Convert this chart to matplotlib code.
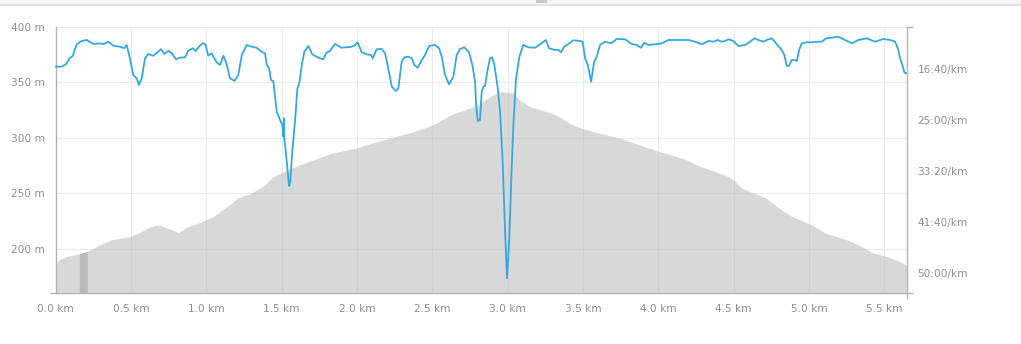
import numpy as np
import matplotlib
matplotlib.use("Agg")
import matplotlib.pyplot as plt
from matplotlib.patches import Rectangle
from matplotlib.ticker import FuncFormatter

# elevation profile (km, m)
elev_km = [0.0, 0.030, 0.074, 0.158, 0.211, 0.295, 0.373, 0.494, 0.561, 0.627,
           0.678, 0.727, 0.815, 0.871, 0.937, 0.999, 1.047, 1.114, 1.169, 1.213,
           1.291, 1.357, 1.390, 1.435, 1.512, 1.611, 1.744, 1.833, 1.988, 2.120,
           2.231, 2.364, 2.474, 2.540, 2.629, 2.717, 2.806, 2.817, 2.850, 2.883,
           2.950, 3.038, 3.078, 3.145, 3.256, 3.322, 3.411, 3.503, 3.613, 3.746,
           3.857, 3.990, 4.100, 4.189, 4.244, 4.277, 4.299, 4.377, 4.465, 4.509,
           4.554, 4.631, 4.709, 4.797, 4.886, 5.018, 5.106, 5.239, 5.327, 5.416,
           5.526, 5.593, 5.649]
elev_m = [186.3, 190.8, 193.2, 195.6, 197.7, 203.7, 208.2, 211.1, 215.1, 219.6,
          221.7, 219.6, 214.7, 219.6, 222.6, 226.2, 229.1, 235.8, 241.2, 246.2,
          249.5, 254.7, 257.6, 264.2, 269.6, 275.0, 281.7, 286.1, 290.6, 296.0,
          300.2, 305.0, 310.1, 314.0, 321.2, 325.1, 329.6, 331.1, 334.1, 337.1,
          341.5, 340.6, 334.1, 328.1, 323.6, 320.6, 313.1, 308.0, 304.1, 299.6,
          294.5, 288.2, 284.0, 280.1, 276.3, 274.1, 273.2, 269.6, 265.1, 260.6,
          254.7, 250.2, 246.2, 237.2, 229.1, 221.7, 214.2, 208.8, 203.7, 196.8,
          192.7, 189.3, 185.1]

# pace (km, seconds per km)
pace_km = [0.0, 0.041, 0.070, 0.092, 0.114, 0.141, 0.174, 0.207, 0.251, 0.295,
           0.317, 0.350, 0.384, 0.428, 0.455, 0.472, 0.494, 0.516, 0.539, 0.554,
           0.572, 0.594, 0.616, 0.649, 0.676, 0.700, 0.722, 0.749, 0.771, 0.800,
           0.826, 0.859, 0.881, 0.910, 0.930, 0.952, 0.977, 0.994, 1.014, 1.037,
           1.047, 1.070, 1.092, 1.114, 1.136, 1.158, 1.187, 1.213, 1.236, 1.269,
           1.302, 1.335, 1.368, 1.390, 1.402, 1.417, 1.430, 1.445, 1.468, 1.490,
           1.505, 1.512, 1.516, 1.518, 1.528, 1.541, 1.550, 1.558, 1.571, 1.589,
           1.605, 1.618, 1.634, 1.651, 1.678, 1.704, 1.744, 1.777, 1.795, 1.822,
           1.855, 1.899, 1.921, 1.954, 1.983, 2.005, 2.032, 2.065, 2.094, 2.105,
           2.131, 2.165, 2.187, 2.208, 2.231, 2.258, 2.275, 2.297, 2.315, 2.341,
           2.364, 2.381, 2.404, 2.430, 2.452, 2.479, 2.518, 2.545, 2.563, 2.585,
           2.611, 2.640, 2.662, 2.684, 2.713, 2.744, 2.766, 2.784, 2.791, 2.802,
           2.817, 2.828, 2.839, 2.850, 2.865, 2.883, 2.897, 2.910, 2.932, 2.950,
           2.968, 2.983, 2.996, 3.011, 3.027, 3.038, 3.056, 3.078, 3.104, 3.138,
           3.182, 3.215, 3.253, 3.275, 3.315, 3.337, 3.355, 3.374, 3.403, 3.436,
           3.481, 3.498, 3.514, 3.532, 3.554, 3.574, 3.591, 3.613, 3.647, 3.686,
           3.724, 3.779, 3.824, 3.857, 3.884, 3.907, 3.934, 3.978, 4.023, 4.067,
           4.111, 4.155, 4.199, 4.244, 4.288, 4.332, 4.365, 4.394, 4.421, 4.443,
           4.465, 4.498, 4.531, 4.576, 4.609, 4.637, 4.664, 4.697, 4.720, 4.753,
           4.786, 4.819, 4.836, 4.852, 4.868, 4.885, 4.903, 4.919, 4.934, 4.952,
           4.985, 5.018, 5.051, 5.085, 5.113, 5.151, 5.195, 5.239, 5.284, 5.327,
           5.383, 5.438, 5.493, 5.538, 5.571, 5.589, 5.604, 5.619, 5.633, 5.649]
pace_s = [977, 977, 954, 895, 873, 758, 726, 716, 755, 749,
          758, 733, 772, 782, 797, 765, 895, 1059, 1091, 1157,
          1091, 895, 853, 870, 837, 807, 853, 824, 846, 905,
          889, 886, 821, 797, 824, 782, 749, 758, 870, 846,
          880, 934, 961, 870, 954, 1091, 1117, 1059, 863, 765,
          782, 792, 831, 846, 961, 993, 1108, 1117, 1418, 1499,
          1548, 1662, 1482, 1678, 1809, 2005, 2145, 2103, 1809, 1516,
          1189, 1140, 961, 831, 775, 856, 889, 905, 846, 821,
          755, 792, 788, 785, 772, 739, 837, 856, 863, 895,
          807, 804, 846, 993, 1173, 1215, 1189, 929, 886, 880,
          895, 961, 987, 912, 863, 775, 765, 797, 880, 1059,
          1150, 1075, 863, 804, 788, 837, 961, 1124, 1352, 1509,
          1499, 1222, 1173, 1166, 1026, 895, 886, 944, 1157, 1418,
          1939, 2592, 3048, 2657, 1972, 1548, 1091, 880, 765, 788,
          792, 758, 716, 797, 814, 814, 837, 782, 755, 719,
          726, 733, 895, 961, 1124, 929, 880, 765, 733, 749,
          706, 709, 755, 765, 792, 743, 765, 758, 749, 716,
          716, 716, 716, 733, 758, 726, 733, 716, 733, 726,
          709, 726, 775, 765, 733, 700, 716, 733, 716, 700,
          758, 814, 863, 971, 968, 912, 912, 922, 814, 749,
          739, 739, 733, 733, 700, 694, 684, 716, 749, 716,
          700, 733, 706, 716, 733, 797, 895, 961, 1036, 1042]

highlight_km = [0.158, 0.211]
dist_ticks = [0.0, 0.5, 1.0, 1.5, 2.0, 2.5, 3.0, 3.5, 4.0, 4.5, 5.0, 5.5]
elev_ticks = [200, 250, 300, 350, 400]
pace_ticks = [1000, 1500, 2000, 2500, 3000]

x_max = 5.65
elev_lim = (160, 400)
pace_lim = (3196, 586)

axis_col = "#b5b5b5"
text_col = "#8f8f8f"

fig = plt.figure(figsize=(10.21, 3.44), dpi=100)
ax = fig.add_axes([55.5 / 1021, 1 - 293.3 / 344, (907 - 55.5) / 1021, (293.3 - 26.7) / 344])

ax.fill_between(elev_km, elev_lim[0], elev_m, color="#bfbfbf", alpha=0.6, lw=0, zorder=1)
hx = np.linspace(highlight_km[0], highlight_km[1], 10)
ax.fill_between(hx, elev_lim[0], np.interp(hx, elev_km, elev_m), color="#bababa", lw=0, zorder=2)

ax.set_xlim(0, x_max)
ax.set_ylim(*elev_lim)
ax.set_axisbelow(True)
ax.grid(True, color="#ebebeb", lw=0.8)

ax.set_xticks(dist_ticks)
ax.xaxis.set_major_formatter(FuncFormatter(lambda v, p: f"{v:.1f} km"))
ax.set_xticks([0, x_max], minor=True)
ax.set_yticks(elev_ticks)
ax.yaxis.set_major_formatter(FuncFormatter(lambda v, p: f"{v:.0f} m"))
ax.set_yticks(list(elev_lim), minor=True)
ax.tick_params(which="major", length=0, labelsize=7.6, labelcolor=text_col)
ax.tick_params(axis="y", which="major", pad=7.5)
ax.tick_params(axis="x", which="major", pad=8)
ax.tick_params(which="minor", length=4.3, width=1, color=axis_col)
for s in ["top", "right"]:
    ax.spines[s].set_visible(False)
for s in ["left", "bottom"]:
    ax.spines[s].set_color(axis_col)
    ax.spines[s].set_linewidth(1)

ax2 = ax.twinx()
ax2.plot(pace_km, pace_s, color="#35a8e0", lw=1.3, solid_joinstyle="round", zorder=3)
ax2.set_ylim(*pace_lim)
ax2.set_xlim(0, x_max)
ax2.set_yticks(pace_ticks)
ax2.yaxis.set_major_formatter(FuncFormatter(lambda v, p: f"{int(v) // 60}:{int(v) % 60:02d}/km"))
ax2.set_yticks(list(pace_lim), minor=True)
ax2.tick_params(which="major", length=0, labelsize=7.6, labelcolor=text_col, pad=7.5)
ax2.tick_params(which="minor", length=4.3, width=1, color=axis_col)
for s in ["top", "left", "bottom"]:
    ax2.spines[s].set_visible(False)
ax2.spines["right"].set_color(axis_col)
ax2.spines["right"].set_linewidth(1)

# top toolbar strip
fig.patches.append(Rectangle((0, 1 - 5 / 344), 1, 5 / 344, transform=fig.transFigure,
                             facecolor="#f5f5f7", edgecolor="none"))
fig.patches.append(Rectangle((0, 1 - 5.5 / 344), 1, 1 / 344, transform=fig.transFigure,
                             facecolor="#e4e4e6", edgecolor="none"))
fig.patches.append(Rectangle((536 / 1021, 1 - 3 / 344), 11 / 1021, 3 / 344, transform=fig.transFigure,
                             facecolor="#c9c9cb", edgecolor="none"))

fig.savefig("out.png", dpi=100)
